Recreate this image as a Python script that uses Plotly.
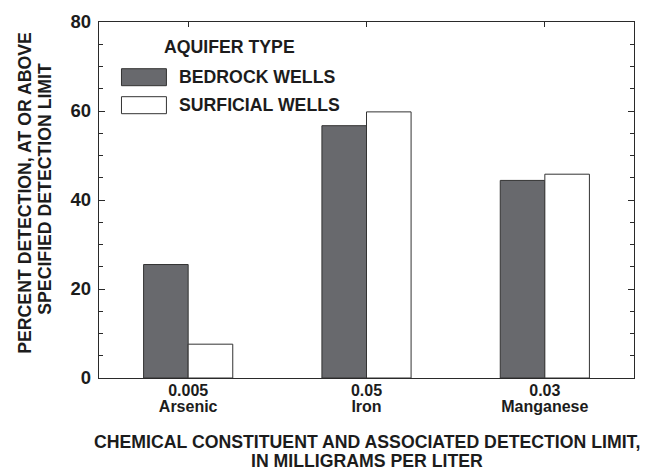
import plotly.graph_objects as go

# ---- data ----
categories = ["Arsenic", "Iron", "Manganese"]
detection_limits = ["0.005", "0.05", "0.03"]
bedrock_wells = [25.5, 56.7, 44.4]
surficial_wells = [7.6, 59.8, 45.8]
series_names = ["BEDROCK WELLS", "SURFICIAL WELLS"]
legend_title = "AQUIFER TYPE"
y_tick_values = [0, 20, 40, 60, 80]
y_title_lines = ["PERCENT DETECTION, AT OR ABOVE", "SPECIFIED DETECTION LIMIT"]
x_title_lines = ["CHEMICAL CONSTITUENT AND ASSOCIATED DETECTION LIMIT,", "IN MILLIGRAMS PER LITER"]

# ---- layout constants ----
W, H = 651, 471
ML, MR, MT, MB = 98.5, 17, 22.3, 92.7
PW, PH = W - ML - MR, H - MT - MB

def px(x):
    return (x - ML) / PW

def py(y):
    return (H - MB - y) / PH

FONT = "Liberation Sans, Arial, Helvetica, sans-serif"
FS = 17.7
TXT = "#1c1c1c"
AXC = "#2a2a2a"
DARK = "#68696d"

fig = go.Figure()
fig.add_bar(x=categories, y=bedrock_wells, name=series_names[0],
            marker=dict(color=DARK, line=dict(color="#333333", width=1)))
fig.add_bar(x=categories, y=surficial_wells, name=series_names[1],
            marker=dict(color="white", line=dict(color="#333333", width=1)))

idx = list(range(len(categories)))
xr = [-0.5, len(categories) - 0.5]

# invisible helper traces so the overlay axes (second label row, top ticks) get drawn
for ax in ["x2", "x3"]:
    fig.add_scatter(x=idx, y=bedrock_wells, xaxis=ax, yaxis="y", mode="markers",
                    marker=dict(opacity=0, size=1), hoverinfo="skip", showlegend=False)

fig.update_layout(
    width=W, height=H,
    margin=dict(l=ML, r=MR, t=MT, b=MB, pad=0),
    paper_bgcolor="white", plot_bgcolor="white",
    barmode="group", bargap=0.5, bargroupgap=0,
    showlegend=False,
    font=dict(family=FONT, size=FS, color=TXT),
    xaxis=dict(type="category", range=xr, tickmode="array",
               tickvals=categories, ticktext=detection_limits,
               ticks="", showline=True, linecolor=AXC, linewidth=1.3,
               showgrid=False, zeroline=False, ticklabelstandoff=-2,
               tickfont=dict(family=FONT, size=16, color=TXT, weight="bold")),
    xaxis2=dict(overlaying="x", anchor="y", side="bottom", type="linear",
                range=xr, tickmode="array", tickvals=idx, ticktext=categories,
                ticks="", showline=False, showgrid=False, zeroline=False,
                ticklabelstandoff=17,
                tickfont=dict(family=FONT, size=16, color=TXT, weight="bold")),
    xaxis3=dict(overlaying="x", anchor="y", side="top", type="linear",
                range=xr, tickmode="array", tickvals=idx,
                ticks="inside", ticklen=5, tickwidth=1.2, tickcolor=AXC,
                showticklabels=False, showline=True, linecolor=AXC, linewidth=1.3,
                showgrid=False, zeroline=False),
    yaxis=dict(range=[0, 80], tickmode="array", tickvals=y_tick_values,
               ticks="inside", ticklen=6, tickwidth=1.2, tickcolor=AXC,
               mirror="ticks", showline=True, linecolor=AXC, linewidth=1.3,
               showgrid=False, zeroline=False, ticklabelstandoff=3,
               minor=dict(dtick=5, ticks="inside", ticklen=3.5, tickwidth=1, tickcolor=AXC),
               tickfont=dict(family=FONT, size=18.5, color=TXT, weight="bold")),
)

# ---- legend (drawn by hand) ----
sw_x0, sw_x1 = px(121), px(166)
sw_rows = [(69, 86), (97, 114)]
fills = [DARK, "white"]
for (top, bot), fill, name in zip(sw_rows, fills, series_names):
    fig.add_shape(type="rect", xref="paper", yref="paper",
                  x0=sw_x0, x1=sw_x1, y0=py(bot), y1=py(top),
                  fillcolor=fill, line=dict(color="#333333", width=1))
    fig.add_annotation(xref="paper", yref="paper", x=px(177), y=py((top + bot) / 2),
                       text=name, showarrow=False, xanchor="left", yanchor="middle",
                       font=dict(family=FONT, size=FS, color=TXT, weight="bold"))
fig.add_annotation(xref="paper", yref="paper", x=px(162), y=py(47),
                   text=legend_title, showarrow=False, xanchor="left", yanchor="middle",
                   font=dict(family=FONT, size=FS, color=TXT, weight="bold"))

# ---- axis titles ----
for line, xc, yc in zip(y_title_lines, [25, 44.5], [193.5, 189]):
    fig.add_annotation(xref="paper", yref="paper", x=px(xc), y=py(yc), text=line,
                       textangle=-90, showarrow=False, xanchor="center", yanchor="middle",
                       font=dict(family=FONT, size=FS, color=TXT, weight="bold"))
for line, yc in zip(x_title_lines, [442, 461]):
    fig.add_annotation(xref="paper", yref="paper", x=px(367), y=py(yc), text=line,
                       showarrow=False, xanchor="center", yanchor="middle",
                       font=dict(family=FONT, size=FS, color=TXT, weight="bold"))

fig.write_html("out.html")
